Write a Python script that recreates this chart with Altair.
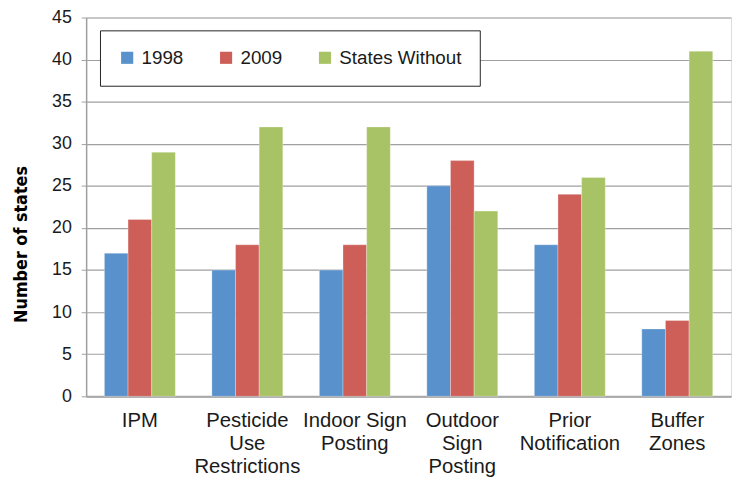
import altair as alt
import pandas as pd

categories = ["IPM", "Pesticide|Use|Restrictions", "Indoor Sign|Posting",
              "Outdoor|Sign|Posting", "Prior|Notification", "Buffer|Zones"]
series = ["1998", "2009", "States Without"]
v1998 = [17, 15, 15, 25, 18, 8]
v2009 = [21, 18, 18, 28, 24, 9]
vwithout = [29, 32, 32, 22, 26, 41]
colors = ["#5891CB", "#CD5F58", "#A8C365"]
y_ticks = [0, 5, 10, 15, 20, 25, 30, 35, 40, 45]

rows = []
for s, vals in zip(series, [v1998, v2009, vwithout]):
    for c, v in zip(categories, vals):
        rows.append({"category": c, "series": s, "value": v})
df = pd.DataFrame(rows)

bars = alt.Chart(df).mark_bar(stroke="#ffffff", strokeWidth=0.5, strokeOpacity=0.6).encode(
    x=alt.X("category:N", sort=categories,
            scale=alt.Scale(paddingInner=0.34, paddingOuter=0.17),
            axis=alt.Axis(title=None, labelAngle=0, ticks=False,
                          labelExpr="split(datum.label, '|')",
                          labelFont="Liberation Sans", labelFontSize=20.5,
                          labelColor="#1a1a1a", labelPadding=15,
                          labelLineHeight=23, labelBaseline="top",
                          domainColor="#a8a8a8", domainWidth=2,
                          grid=False)),
    xOffset=alt.XOffset("series:N", sort=series, scale=alt.Scale(paddingInner=0, paddingOuter=0)),
    y=alt.Y("value:Q", scale=alt.Scale(domain=[0, 45], nice=False),
            axis=alt.Axis(title="Number of states", values=y_ticks,
                          titleFont="DejaVu Sans Condensed, Roboto, sans-serif", titleFontSize=18,
                          titleFontWeight="bold", titleColor="#000000",
                          titleX=-60, titleY=229, titleAngle=270,
                          titleAlign="center", titleBaseline="alphabetic",
                          labelFont="Liberation Sans", labelFontSize=18,
                          labelColor="#1a1a1a", labelPadding=10,
                          tickSize=5, tickColor="#a0a0a0",
                          domainColor="#a0a0a0", domainWidth=1.5,
                          gridColor="#a0a0a0", gridWidth=1.2)),
    color=alt.Color("series:N", sort=series,
                    scale=alt.Scale(domain=series, range=colors),
                    legend=alt.Legend(title=None, orient="none", direction="horizontal",
                                      legendX=14, legendY=13,
                                      fillColor="#ffffff", strokeColor="#222222",
                                      padding=18, symbolType="square", symbolSize=150,
                                      symbolStrokeWidth=0, labelFont="Liberation Sans",
                                      labelFontSize=19, labelColor="#1a1a1a",
                                      labelOffset=5, columnPadding=33)),
)

chart = bars.properties(
    width=652, height=383,
    autosize=alt.AutoSizeParams(type="none"),
    padding={"left": 79, "top": 7, "right": 1, "bottom": 80},
).configure_view(stroke=None).configure(background="#ffffff")

chart.save("out.html", embed_options={"renderer": "svg", "actions": False})
